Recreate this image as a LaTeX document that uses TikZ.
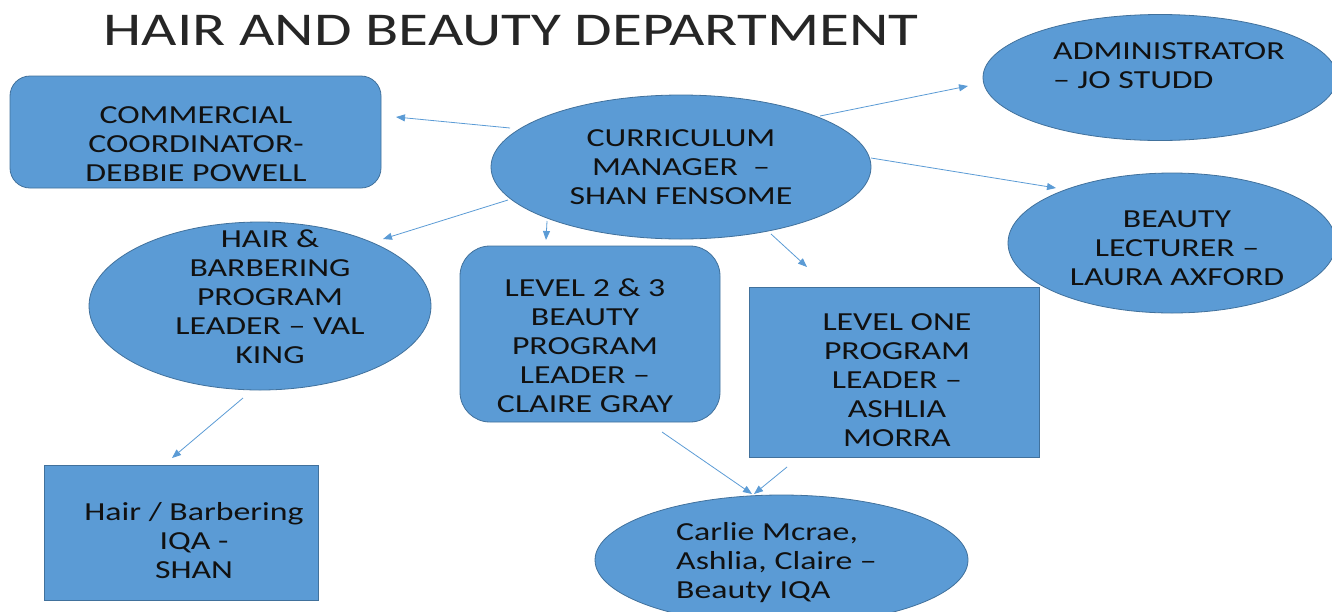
\documentclass[tikz,border=0pt]{standalone}
\usepackage{fontspec}
\setmainfont{Carlito}[FakeStretch=1.3]
\usetikzlibrary{shapes.geometric,arrows.meta}
\definecolor{fillc}{HTML}{5B9BD5}
\definecolor{bordc}{HTML}{41719C}
\definecolor{arrc}{HTML}{5B9BD5}
\definecolor{txtc}{HTML}{111111}
\tikzset{
  shapebox/.style={draw=bordc, fill=fillc, line width=0.8pt, inner sep=0pt},
  ell/.style={shapebox, ellipse},
  rbox/.style={shapebox, rectangle},
  txt/.style={align=center, text=txtc, inner sep=0pt, font=\fontsize{26}{29}\selectfont},
  txtl/.style={txt, align=left, anchor=west},
  arr/.style={draw=arrc, line width=0.8pt, -{Triangle[length=9pt,width=7pt]}}
}
\begin{document}
\begin{tikzpicture}[x=1pt,y=-1pt]
\useasboundingbox (0,0) rectangle (1332,611);
% title
\node[text=black!85, inner sep=0pt, font=\fontsize{47}{50}\selectfont] (title) at (511,31) {HAIR AND BEAUTY DEPARTMENT};
% shapes
\node[ell, minimum width=380pt, minimum height=144pt] (cm) at (681,167) {};
\node[txt] (cmt) at (681,167) {CURRICULUM\\MANAGER\ \ –\\SHAN FENSOME};

\node[rbox, rounded corners=20pt, minimum width=371pt, minimum height=112pt] (cc) at (195.5,132) {};
\node[txt] (cct) at (196,144) {COMMERCIAL\\COORDINATOR-\\DEBBIE POWELL};

\node[ell, minimum width=354pt, minimum height=126pt] (adm) at (1160,77.5) {};
\node[txtl] (admt) at (1053,66) {ADMINISTRATOR\\– JO STUDD};

\node[ell, minimum width=328pt, minimum height=140pt] (bl) at (1172,243) {};
\node[txt] (blt) at (1177,248) {BEAUTY\\LECTURER –\\LAURA AXFORD};

\node[ell, minimum width=342pt, minimum height=168pt] (hb) at (260,306) {};
\node[txt] (hbt) at (270,297) {HAIR \&\\BARBERING\\PROGRAM\\LEADER – VAL\\KING};

\node[rbox, rounded corners=30pt, minimum width=260pt, minimum height=176pt] (l23) at (590,334) {};
\node[txt] (l23t) at (585,345.5) {LEVEL 2 \& 3\\BEAUTY\\PROGRAM\\LEADER –\\CLAIRE GRAY};

\node[rbox, minimum width=290pt, minimum height=170pt] (l1) at (894,372) {};
\node[txt] (l1t) at (897,380) {LEVEL ONE\\PROGRAM\\LEADER –\\ASHLIA\\MORRA};

\node[rbox, minimum width=274pt, minimum height=135pt] (hiqa) at (181,532.5) {};
\node[txt] (hiqat) at (194,541) {Hair / Barbering\\IQA -\\SHAN};

\node[ell, minimum width=373pt, minimum height=130pt] (biqa) at (781.5,560) {};
\node[txtl] (biqat) at (676,563) {Carlie Mcrae,\\Ashlia, Claire –\\Beauty IQA};

% connectors
\draw[arr] ([shift={(-171,-39)}]cm.center) -- ([shift={(200.5,-15)}]cc.center);
\draw[arr] ([shift={(139,-51)}]cm.center) -- ([shift={(-192,8.5)}]adm.center);
\draw[arr] ([shift={(190,-9)}]cm.center) -- ([shift={(-116,-55)}]bl.center);
\draw[arr] ([shift={(-173,33)}]cm.center) -- ([shift={(123,-67)}]hb.center);
\draw[arr] ([shift={(-134,54)}]cm.center) -- ([shift={(-44,-94)}]l23.center);
\draw[arr] ([shift={(90,67)}]cm.center) -- ([shift={(-87,-105)}]l1.center);
\draw[arr] ([shift={(-17,92)}]hb.center) -- ([shift={(-9,-74.5)}]hiqa.center);
\draw[arr] ([shift={(72,98)}]l23.center) -- ([shift={(-29.5,-66)}]biqa.center);
\draw[arr] ([shift={(-107,95)}]l1.center) -- ([shift={(-27.5,-66)}]biqa.center);
\end{tikzpicture}
\end{document}
